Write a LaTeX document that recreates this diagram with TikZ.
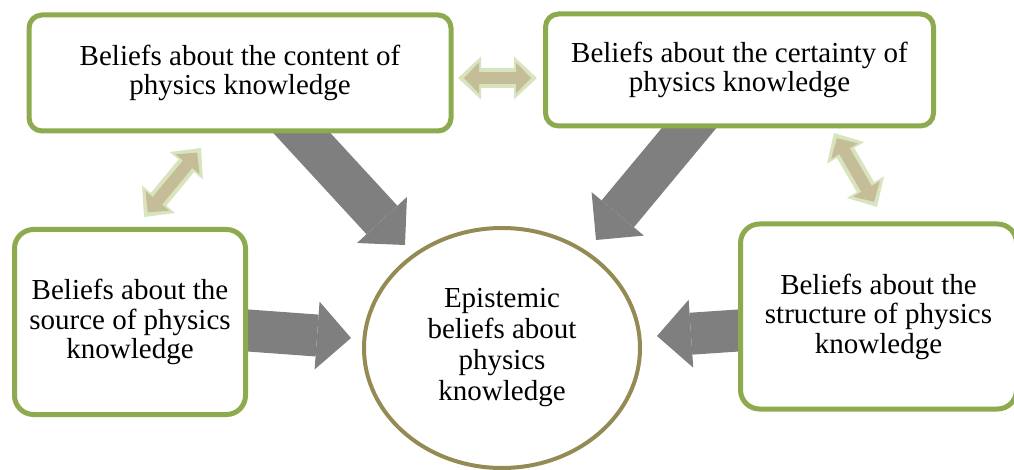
\documentclass[tikz,border=0pt]{standalone}
\usepackage{fontspec}
\setmainfont{Liberation Serif}
\usetikzlibrary{shapes.geometric}
\usetikzlibrary{arrows.meta, backgrounds}
\usepackage{xcolor}
\definecolor{boxgreen}{HTML}{8EAA4E}
\definecolor{rimtan}{HTML}{948A54}
\definecolor{arrowgray}{HTML}{7F7F7F}
\definecolor{linkfill}{HTML}{C4BD97}
\definecolor{linkrim}{HTML}{D7E4BD}

\begin{document}
\begin{tikzpicture}[x=1pt, y=-1pt,
    every node/.style={font=\fontsize{29}{29.5}\selectfont, align=center, inner sep=0pt},
    belief/.style={rectangle, draw=boxgreen, line width=5pt, fill=white, rounded corners=13pt},
    core/.style={ellipse, draw=rimtan, line width=4pt, fill=white,
        font=\fontsize{29}{31}\selectfont, minimum width=276pt, minimum height=240pt},
    bigarrow/.style={draw=arrowgray, line width=42pt,
        -{Triangle[length=34pt 0 0, width=68pt 0 0, line width=0pt 0 0]}},
    linkarrow/.style={draw=linkrim, line width=20pt,
        {Triangle[length=23pt 0 0, width=43pt 0 0, line width=0pt 0 0]}-{Triangle[length=23pt 0 0, width=43pt 0 0, line width=0pt 0 0]},
        postaction={draw=linkfill, line width=12pt, shorten <=6pt, shorten >=6pt,
            {Triangle[length=15pt 0 0, width=31pt 0 0, line width=0pt 0 0]}-{Triangle[length=15pt 0 0, width=31pt 0 0, line width=0pt 0 0]}}}
    ]
    \useasboundingbox (0,0) rectangle (1014,470);

    \node[belief, minimum width=422pt, minimum height=116pt] (content) at (240,73)
        {Beliefs about the content of\\physics knowledge};
    \node[belief, minimum width=388pt, minimum height=112pt] (certainty) at (739.5,70)
        {Beliefs about the certainty of\\physics knowledge};
    \node[belief, rounded corners=19pt, minimum width=231pt, minimum height=185pt] (source) at (130,322)
        {Beliefs about the\\source of physics\\knowledge};
    \node[belief, rounded corners=19pt, minimum width=276pt, minimum height=185pt] (structure) at (878.5,316.5)
        {Beliefs about the\\structure of physics\\knowledge};
    \node[core] (epist) at (502,348) {Epistemic\\beliefs about\\physics\\knowledge};

    \coordinate (tipcontent) at (405,245);
    \coordinate (tipcertainty) at (596,240);
    \coordinate (tipsource) at (351,338);
    \coordinate (tipstructure) at (657,336);

    \begin{scope}[on background layer]
        \draw[bigarrow] ([shift={(25,20)}]content.center) -- (tipcontent);
        \draw[bigarrow] ([shift={(-20.5,22)}]certainty.center) -- (tipcertainty);
        \draw[bigarrow] ([shift={(70,5)}]source.center) -- (tipsource);
        \draw[bigarrow] ([shift={(-88.5,10.5)}]structure.center) -- (tipstructure);
    \end{scope}

    \draw[linkarrow] ([shift={(4.5,5)}]content.east) -- ([shift={(-6,8)}]certainty.west);
    \draw[linkarrow] ([shift={(14,-10)}]source.north) -- ([shift={(-39,14.5)}]content.south);
    \draw[linkarrow] ([shift={(94.5,4.5)}]certainty.south) -- ([shift={(-1.5,-14.5)}]structure.north);
\end{tikzpicture}
\end{document}
